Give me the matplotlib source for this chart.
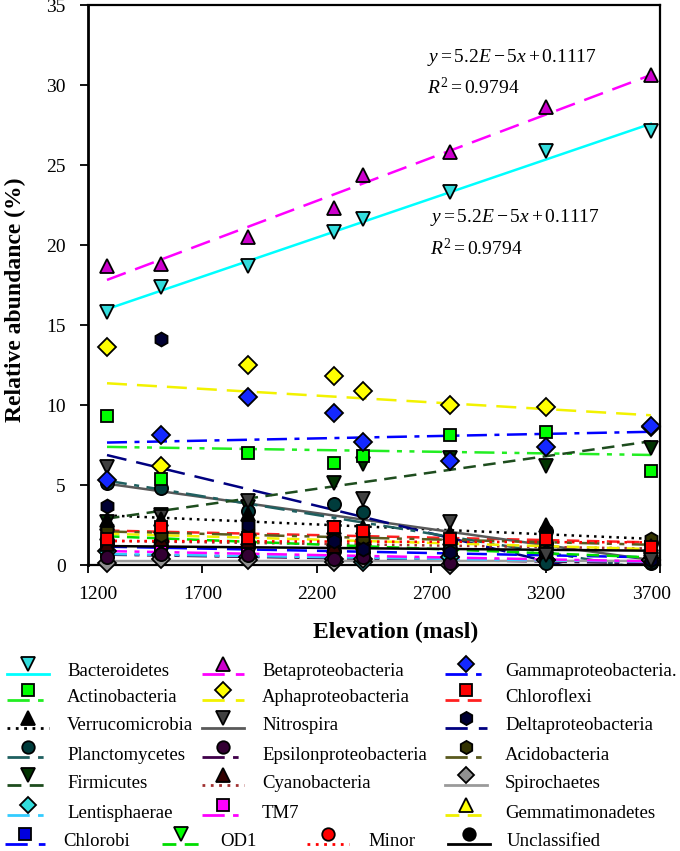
import numpy as np
import matplotlib
matplotlib.use("Agg")
import matplotlib.pyplot as plt
import matplotlib.transforms as mtransforms
from matplotlib.lines import Line2D

plt.rcParams['font.family'] = ['Liberation Serif', 'DejaVu Serif']
plt.rcParams['mathtext.fontset'] = 'custom'
plt.rcParams['mathtext.rm'] = 'Liberation Serif'
plt.rcParams['mathtext.it'] = 'Liberation Serif:italic'

# --- Data (relative abundance, %) ---
elevation = [1283, 1520, 1900, 2275, 2400, 2780, 3200, 3660]

bacteroidetes = [15.8, 17.4, 18.7, 20.8, 21.6, 23.3, 25.9, 27.1]
betaproteobacteria = [18.7, 18.8, 20.5, 22.3, 24.4, 25.8, 28.6, 30.6]
gammaproteobacteria = [5.3, 8.1, 10.5, 9.5, 7.7, 6.5, 7.4, 8.7]
actinobacteria = [9.3, 5.4, 7.0, 6.4, 6.8, 8.1, 8.3, 5.9]
aphaproteobacteria = [13.6, 6.2, 12.5, 11.8, 10.9, 10.0, 9.9, 8.6]
chloroflexi = [1.6, 2.4, 1.7, 2.4, 2.1, 1.6, 1.6, 1.1]
verrucomicrobia = [2.8, 2.9, 3.2, 2.4, 2.4, 2.0, 2.5, 1.2]
nitrospira = [6.1, 3.0, 4.0, 2.3, 4.1, 2.7, 0.6, 0.3]
deltaproteobacteria = [3.7, 14.1, 2.5, 1.5, 1.0, 0.8, 0.8, 0.3]
planctomycetes = [5.1, 4.8, 3.4, 3.8, 3.3, 1.0, 0.1, 0.2]
epsilonproteobacteria = [0.5, 0.7, 0.6, 0.4, 0.5, 0.1, 0.3, 0.1]
acidobacteria = [2.3, 1.9, 2.0, 1.6, 1.7, 1.4, 1.2, 1.6]
firmicutes = [2.7, 3.1, 3.6, 5.1, 6.3, 6.7, 6.2, 7.3]
cyanobacteria = [1.3, 1.6, 1.5, 1.2, 1.4, 1.1, 1.3, 0.9]
spirochaetes = [0.1, 0.4, 0.3, 0.2, 0.4, 0.0, 0.3, 0.3]
lentisphaerae = [0.9, 0.6, 0.5, 0.4, 0.2, 0.5, 0.3, 0.3]
tm7 = [0.9, 0.8, 0.7, 0.6, 0.6, 0.4, 0.3, 0.3]
gemmatimonadetes = [2.0, 1.8, 1.7, 1.6, 1.5, 1.3, 1.2, 1.0]
chlorobi = [1.1, 1.2, 0.9, 0.8, 0.9, 0.7, 0.6, 0.5]
od1 = [1.8, 1.6, 1.5, 1.3, 1.2, 0.9, 0.7, 0.5]
minor = [1.5, 1.5, 1.4, 1.6, 1.4, 1.5, 1.4, 1.4]
unclassified = [1.3, 1.2, 1.1, 0.9, 0.8, 0.6, 2.1, 0.4]

x_ticks = [1200, 1700, 2200, 2700, 3200, 3700]
y_ticks = [0, 5, 10, 15, 20, 25, 30, 35]

# dash patterns
SOLID = '-'
LDASH = (0, (8, 4))
DASH = (0, (5, 3))
DDOT = (0, (8, 3, 2, 3))
DDDOT = (0, (8, 3, 2, 3, 2, 3))
DOT = (0, (1, 2))

# name, values, marker, marker face, line colour, dash pattern
series = [
    ("Bacteroidetes", bacteroidetes, 'v', '#33DDDD', '#00FFFF', SOLID),
    ("Betaproteobacteria", betaproteobacteria, '^', '#CC00CC', '#FF00FF', LDASH),
    ("Gammaproteobacteria.", gammaproteobacteria, 'D', '#1428FF', '#0000FF', DDOT),
    ("Actinobacteria", actinobacteria, 's', '#00FF00', '#22EE22', DDDOT),
    ("Aphaproteobacteria", aphaproteobacteria, 'D', '#FFFF00', '#F2F200', LDASH),
    ("Chloroflexi", chloroflexi, 's', '#FF0000', '#FF2020', DASH),
    ("Verrucomicrobia", verrucomicrobia, '^', '#000000', '#000000', DOT),
    ("Nitrospira", nitrospira, 'v', '#404040', '#595959', SOLID),
    ("Deltaproteobacteria", deltaproteobacteria, 'h', '#000033', '#000080', LDASH),
    ("Planctomycetes", planctomycetes, 'o', '#003C3C', '#1F6060', DDOT),
    ("Epsilonproteobacteria", epsilonproteobacteria, 'o', '#330033', '#40004A', DDOT),
    ("Acidobacteria", acidobacteria, 'h', '#333300', '#5A5A1E', DDDOT),
    ("Firmicutes", firmicutes, 'v', '#003300', '#1E4D1E', DASH),
    ("Cyanobacteria", cyanobacteria, '^', '#330000', '#A03030', DOT),
    ("Spirochaetes", spirochaetes, 'D', '#909090', '#9A9A9A', SOLID),
    ("Lentisphaerae", lentisphaerae, 'D', '#33DDDD', '#33CCFF', DDOT),
    ("TM7", tm7, 's', '#FF00FF', '#FF00FF', DDOT),
    ("Gemmatimonadetes", gemmatimonadetes, '^', '#FFFF00', '#F0F000', DASH),
    ("Chlorobi", chlorobi, 's', '#0000DD', '#0000FF', LDASH),
    ("OD1", od1, 'v', '#00FF00', '#00DD00', DASH),
    ("Minor", minor, 'o', '#FF0000', '#FF0000', DOT),
    ("Unclassified", unclassified, 'o', '#000000', '#000000', SOLID),
]

MSIZE = {'v': 10, '^': 10, 's': 9, 'D': 9, 'o': 9.5, 'h': 10}

fig = plt.figure(figsize=(6.8, 8.51), dpi=100)
W, H = 680.0, 851.0
ax = fig.add_axes([88 / W, 1 - 565 / H, (660 - 88) / W, (565 - 5) / H])

x = np.array(elevation, dtype=float)
xs = np.array([x.min(), x.max()])

# linear trendlines first, markers on top
for name, vals, mk, mfc, lc, ls in series:
    k, b = np.polyfit(x, np.array(vals), 1)
    ax.plot(xs, k * xs + b, color=lc, linestyle=ls, linewidth=1.8, zorder=2)

for name, vals, mk, mfc, lc, ls in reversed(series):
    ax.plot(x, vals, linestyle='none', marker=mk, markersize=MSIZE[mk],
            markerfacecolor=mfc, markeredgecolor='black', markeredgewidth=1.3,
            zorder=3, clip_on=False)

ax.set_xlim(1200, 3700)
ax.set_ylim(0, 35)
ax.set_xticks(x_ticks)
ax.set_yticks(y_ticks)
ax.tick_params(axis='both', direction='out', length=6, width=1.3, labelsize=14,
               colors='black')
ax.tick_params(axis='x', pad=9)
ax.tick_params(axis='y', pad=10)
for s in ax.spines.values():
    s.set_linewidth(1.6)
ax.spines['left'].set_linewidth(2.0)

# end labels sit slightly inwards in the original
ticks = ax.xaxis.get_major_ticks()
off = mtransforms.ScaledTranslation(10 / 100, 0, fig.dpi_scale_trans)
ticks[0].label1.set_transform(ticks[0].label1.get_transform() + off)
off2 = mtransforms.ScaledTranslation(-8 / 100, 0, fig.dpi_scale_trans)
ticks[-1].label1.set_transform(ticks[-1].label1.get_transform() + off2)

ax.set_xlabel("Elevation (masl)", fontsize=17, fontweight='bold')
ax.set_ylabel("Relative abundance (%)", fontsize=17, fontweight='bold')
ax.xaxis.set_label_coords((396 - 88) / 572, -(622 - 565) / 560)
ax.yaxis.set_label_coords(-(88 - 26) / 572, (565 - 300) / 560)

eq = r'$y = 5.2E - 5x + 0.1117$'
r2 = r'$R^2 = 0.9794$'
fig.text(427 / W, 1 - 57 / H, eq, fontsize=14, va='center', ha='left')
fig.text(427 / W, 1 - 87 / H, r2, fontsize=14, va='center', ha='left')
fig.text(430 / W, 1 - 217 / H, eq, fontsize=14, va='center', ha='left')
fig.text(430 / W, 1 - 248 / H, r2, fontsize=14, va='center', ha='left')

# --- legend, laid out by hand in pixel positions ---
rows = [672, 698, 726, 755, 783, 813, 842]
cols = [(7, 49, 67), (202, 244, 262), (445, 487, 505)]
last_row = [(5, 45, 63), (162, 200, 220), (307, 349, 368), (448, 490, 507)]

slots = []
for r in range(6):
    for c in range(3):
        slots.append((cols[c], rows[r]))
for c in range(4):
    slots.append((last_row[c], rows[6]))


def fx(px):
    return px / W


def fy(py):
    return 1 - py / H


for (name, vals, mk, mfc, lc, ls), ((x0, x1, xt), yr) in zip(series, slots):
    ly = yr + 2
    fig.add_artist(Line2D([fx(x0), fx(x1)], [fy(ly), fy(ly)], color=lc,
                          linestyle=ls, linewidth=2.0, transform=fig.transFigure))
    fig.add_artist(Line2D([fx((x0 + x1) / 2)], [fy(ly - 10)], linestyle='none',
                          marker=mk, markersize=MSIZE[mk] - 0.5,
                          markerfacecolor=mfc, markeredgecolor='black',
                          markeredgewidth=1.3, transform=fig.transFigure))
    fig.text(fx(xt), fy(yr), name, fontsize=13.5, va='center', ha='left')

fig.savefig("out.png", dpi=100)
